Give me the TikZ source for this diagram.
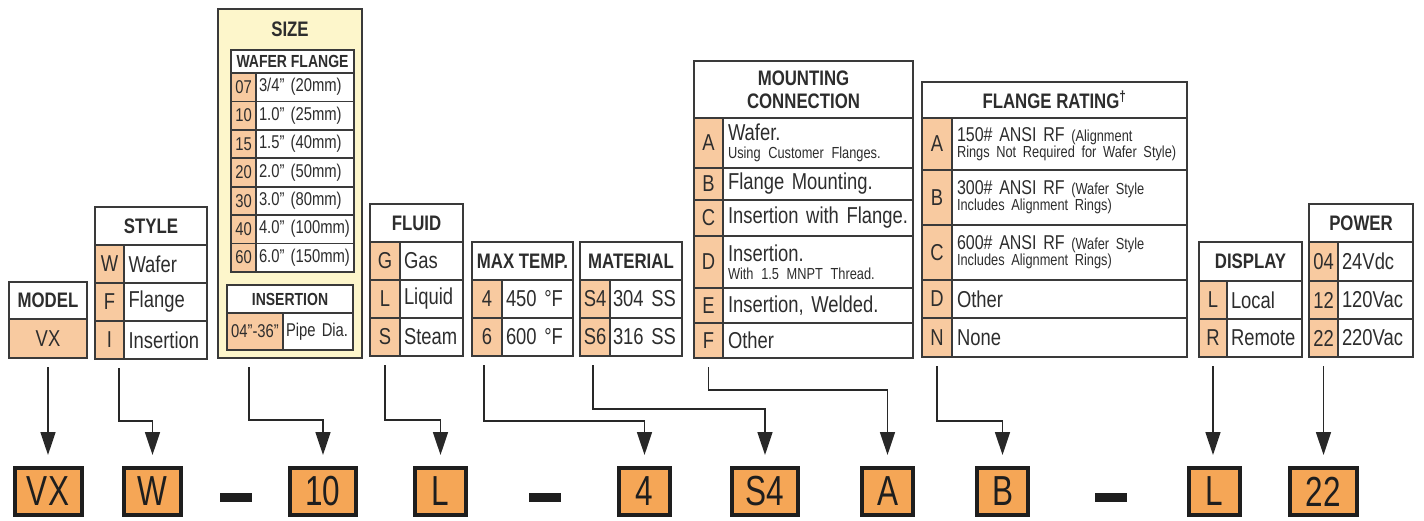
\documentclass[tikz,border=0pt]{standalone}
\usepackage{fontspec}
\setmainfont{Liberation Sans}[FakeStretch=0.8]
\newfontfamily\boxfam{Liberation Sans}[FakeStretch=0.75]
\usepackage{xcolor}
\usetikzlibrary{arrows.meta,positioning,calc}

\definecolor{codefill}{RGB}{248,202,160}
\definecolor{sizefill}{RGB}{253,246,203}
\definecolor{tabline}{RGB}{58,58,58}
\definecolor{boxfill}{RGB}{245,166,86}
\definecolor{boxline}{RGB}{30,30,30}
\definecolor{arrline}{RGB}{40,40,40}
\definecolor{txtcol}{RGB}{45,45,45}

\newcommand{\hdfnt}{\fontsize{21}{23}\selectfont\bfseries}
\newcommand{\subfnt}{\fontsize{17.5}{19}\selectfont\bfseries}
\newcommand{\rowfnt}{\fontsize{23}{24}\selectfont}
\newcommand{\midfnt}{\fontsize{20}{22}\selectfont}
\newcommand{\szfnt}{\fontsize{18.5}{20}\selectfont}
\newcommand{\smfnt}{\fontsize{16}{18}\selectfont}
\newcommand{\bigfnt}{\fontsize{42}{42}\selectfont\boxfam}

\begin{document}
\begin{tikzpicture}[
    x=1pt, y=1pt,
    font=\rowfnt, text=txtcol,
    cell/.style={draw=tabline, line width=1.8pt, inner sep=0pt, outer sep=0pt},
    head/.style={cell, fill=white, font=\hdfnt, align=center, anchor=north west},
    subhead/.style={cell, fill=white, font=\subfnt, anchor=north west},
    codecell/.style={cell, fill=codefill},
    desccell/.style={cell, fill=white, align=left, inner xsep=5pt, text width=#1},
    cbox/.style={draw=boxline, line width=4pt, fill=boxfill, inner sep=0pt,
                 minimum height=47, font=\bigfnt, text=boxline},
    hyph/.style={fill=boxline, inner sep=0pt, minimum width=32, minimum height=9},
    arr/.style={-{Triangle[length=23pt,width=15pt]}, line width=1.6pt, draw=arrline}
]
\useasboundingbox (0,0) rectangle (1424,-520);

% model
\node[head, minimum width=78, minimum height=37] (mdH) at (9,-282) {MODEL};
\node[codecell, minimum width=78, minimum height=39, below=0pt of mdH] (mdV) {VX};

% style
\node[head, minimum width=112, minimum height=38] (stH) at (95,-207) {STYLE};
\node[codecell, minimum width=29, minimum height=38, below right=0pt and 0pt of stH.south west] (stW) {W};
\node[desccell=74, inner xsep=4.5pt, minimum height=38, right=0pt of stW] (stWd) {Wafer};
\node[codecell, minimum width=29, minimum height=38, below=0pt of stW] (stF) {F};
\node[desccell=74, inner xsep=4.5pt, minimum height=38, right=0pt of stF] (stFd) {Flange};
\node[codecell, minimum width=29, minimum height=38, below=0pt of stF] (stI) {I};
\node[desccell=74, inner xsep=4.5pt, minimum height=38, right=0pt of stI] (stId) {Insertion};

% size
\node[cell, fill=sizefill, anchor=north west, minimum width=144, minimum height=349] (szBg) at (218,-9) {};
\node[font=\hdfnt] (szT) at (290,-29) {SIZE};
\node[subhead, minimum width=123, minimum height=23] (wfH) at (231,-50) {WAFER FLANGE};
\node[codecell, font=\szfnt, minimum width=25, minimum height=28.4, below right=0pt and 0pt of wfH.south west] (sz07) {07};
\node[desccell=92, inner xsep=3pt, font=\szfnt, minimum height=28.4, right=0pt of sz07] (sz07d) {3/4" (20mm)};
\node[codecell, font=\szfnt, minimum width=25, minimum height=28.4, below=0pt of sz07] (sz10) {10};
\node[desccell=92, inner xsep=3pt, font=\szfnt, minimum height=28.4, right=0pt of sz10] (sz10d) {1.0" (25mm)};
\node[codecell, font=\szfnt, minimum width=25, minimum height=28.4, below=0pt of sz10] (sz15) {15};
\node[desccell=92, inner xsep=3pt, font=\szfnt, minimum height=28.4, right=0pt of sz15] (sz15d) {1.5" (40mm)};
\node[codecell, font=\szfnt, minimum width=25, minimum height=28.4, below=0pt of sz15] (sz20) {20};
\node[desccell=92, inner xsep=3pt, font=\szfnt, minimum height=28.4, right=0pt of sz20] (sz20d) {2.0" (50mm)};
\node[codecell, font=\szfnt, minimum width=25, minimum height=28.4, below=0pt of sz20] (sz30) {30};
\node[desccell=92, inner xsep=3pt, font=\szfnt, minimum height=28.4, right=0pt of sz30] (sz30d) {3.0" (80mm)};
\node[codecell, font=\szfnt, minimum width=25, minimum height=28.4, below=0pt of sz30] (sz40) {40};
\node[desccell=92, inner xsep=3pt, font=\szfnt, minimum height=28.4, right=0pt of sz40] (sz40d) {4.0" (100mm)};
\node[codecell, font=\szfnt, minimum width=25, minimum height=28.4, below=0pt of sz40] (sz60) {60};
\node[desccell=92, inner xsep=3pt, font=\szfnt, minimum height=28.4, right=0pt of sz60] (sz60d) {6.0" (150mm)};
\node[subhead, minimum width=126, minimum height=28] (inH) at (227,-285) {INSERTION};
\node[codecell, font=\szfnt, minimum width=56, minimum height=37, below right=0pt and 0pt of inH.south west] (inC) {04"-36"};
\node[desccell=64, inner xsep=3pt, font=\szfnt, minimum height=37, right=0pt of inC] (inCd) {Pipe Dia.};

% fluid
\node[head, minimum width=93, minimum height=38] (flH) at (370,-204) {FLUID};
\node[codecell, minimum width=30, minimum height=38, below right=0pt and 0pt of flH.south west] (flG) {G};
\node[desccell=55, inner xsep=4pt, minimum height=38, right=0pt of flG] (flGd) {Gas};
\node[codecell, minimum width=30, minimum height=38, below=0pt of flG] (flL) {L};
\node[desccell=55, inner xsep=4pt, minimum height=38, right=0pt of flL] (flLd) {Liquid};
\node[codecell, minimum width=30, minimum height=38, below=0pt of flL] (flS) {S};
\node[desccell=55, inner xsep=4pt, minimum height=38, right=0pt of flS] (flSd) {Steam};

% max temp
\node[head, minimum width=101, minimum height=38] (tpH) at (472,-242) {MAX TEMP.};
\node[codecell, minimum width=30, minimum height=38, below right=0pt and 0pt of tpH.south west] (tp4) {4};
\node[desccell=63, inner xsep=4pt, minimum height=38, right=0pt of tp4] (tp4d) {450 °F};
\node[codecell, minimum width=30, minimum height=38, below=0pt of tp4] (tp6) {6};
\node[desccell=63, inner xsep=4pt, minimum height=38, right=0pt of tp6] (tp6d) {600 °F};

% material
\node[head, minimum width=102, minimum height=38] (maH) at (580,-242) {MATERIAL};
\node[codecell, minimum width=30, minimum height=38, below right=0pt and 0pt of maH.south west] (maS4) {S4};
\node[desccell=66, inner xsep=3pt, minimum height=38, right=0pt of maS4] (maS4d) {304 SS};
\node[codecell, minimum width=30, minimum height=38, below=0pt of maS4] (maS6) {S6};
\node[desccell=66, inner xsep=3pt, minimum height=38, right=0pt of maS6] (maS6d) {316 SS};

% mounting connection
\node[head, minimum width=219, minimum height=57] (mcH) at (694,-61) {MOUNTING\\CONNECTION};
\node[codecell, minimum width=29, minimum height=50, below right=0pt and 0pt of mcH.south west] (mcA) {A};
\node[desccell=180, minimum height=50, right=0pt of mcA] (mcAd) {Wafer.\\[-6pt]{\smfnt Using Customer Flanges.}};
\node[codecell, minimum width=29, minimum height=32, below=0pt of mcA] (mcB) {B};
\node[desccell=180, minimum height=32, right=0pt of mcB] (mcBd) {Flange Mounting.};
\node[codecell, minimum width=29, minimum height=36, below=0pt of mcB] (mcC) {C};
\node[desccell=180, minimum height=36, right=0pt of mcC] (mcCd) {Insertion with Flange.};
\node[codecell, minimum width=29, minimum height=52, below=0pt of mcC] (mcD) {D};
\node[desccell=180, minimum height=52, right=0pt of mcD] (mcDd) {Insertion.\\[-6pt]{\smfnt With 1.5 MNPT Thread.}};
\node[codecell, minimum width=29, minimum height=35, below=0pt of mcD] (mcE) {E};
\node[desccell=180, minimum height=35, right=0pt of mcE] (mcEd) {Insertion, Welded.};
\node[codecell, minimum width=29, minimum height=35, below=0pt of mcE] (mcF) {F};
\node[desccell=180, minimum height=35, right=0pt of mcF] (mcFd) {Other};

% flange rating
\node[head, minimum width=265, minimum height=36] (frH) at (922,-82) {FLANGE RATING\textsuperscript{†}};
\node[codecell, minimum width=30, minimum height=52, below right=0pt and 0pt of frH.south west] (frA) {A};
\node[desccell=225, font=\midfnt, minimum height=52, right=0pt of frA] (frAd)
  {150\# ANSI RF {\smfnt (Alignment}\\[-6pt]{\smfnt Rings Not Required for Wafer Style)}};
\node[codecell, minimum width=30, minimum height=55, below=0pt of frA] (frB) {B};
\node[desccell=225, font=\midfnt, minimum height=55, right=0pt of frB] (frBd)
  {300\# ANSI RF {\smfnt (Wafer Style}\\[-6pt]{\smfnt Includes Alignment Rings)}};
\node[codecell, minimum width=30, minimum height=55, below=0pt of frB] (frC) {C};
\node[desccell=225, font=\midfnt, minimum height=55, right=0pt of frC] (frCd)
  {600\# ANSI RF {\smfnt (Wafer Style}\\[-6pt]{\smfnt Includes Alignment Rings)}};
\node[codecell, minimum width=30, minimum height=38, below=0pt of frC] (frD) {D};
\node[desccell=225, minimum height=38, right=0pt of frD] (frDd) {Other};
\node[codecell, minimum width=30, minimum height=39, below=0pt of frD] (frN) {N};
\node[desccell=225, minimum height=39, right=0pt of frN] (frNd) {None};

% display
\node[head, minimum width=103, minimum height=39] (dsH) at (1199,-242) {DISPLAY};
\node[codecell, minimum width=28, minimum height=38, below right=0pt and 0pt of dsH.south west] (dsL) {L};
\node[desccell=67, inner xsep=4pt, minimum height=38, right=0pt of dsL] (dsLd) {Local};
\node[codecell, minimum width=28, minimum height=38, below=0pt of dsL] (dsR) {R};
\node[desccell=67, inner xsep=4pt, minimum height=38, right=0pt of dsR] (dsRd) {Remote};

% power
\node[head, minimum width=104, minimum height=38] (pwH) at (1309,-204) {POWER};
\node[codecell, minimum width=29, minimum height=39, below right=0pt and 0pt of pwH.south west] (pw04) {04};
\node[desccell=67, inner xsep=4pt, minimum height=39, right=0pt of pw04] (pw04d) {24Vdc};
\node[codecell, minimum width=29, minimum height=38, below=0pt of pw04] (pw12) {12};
\node[desccell=67, inner xsep=4pt, minimum height=38, right=0pt of pw12] (pw12d) {120Vac};
\node[codecell, minimum width=29, minimum height=38, below=0pt of pw12] (pw22) {22};
\node[desccell=67, inner xsep=4pt, minimum height=38, right=0pt of pw22] (pw22d) {220Vac};

% model number
\node[cbox, minimum width=67] (bVX) at (48,-491.5) {VX};
\node[cbox, minimum width=57] (bW) at (152.5,-491.5) {W};
\node[hyph] (hyA) at (236,-497.5) {};
\node[cbox, minimum width=66] (b10) at (323,-491.5) {10};
\node[cbox, minimum width=51] (bL) at (440.5,-491.5) {L};
\node[hyph] (hyB) at (545,-497.5) {};
\node[cbox, minimum width=51] (b4) at (644.5,-491.5) {4};
\node[cbox, minimum width=66] (bS4) at (765,-491.5) {S4};
\node[cbox, minimum width=51] (bA) at (887.5,-491.5) {A};
\node[cbox, minimum width=51] (bB) at (1002.5,-491.5) {B};
\node[hyph] (hyC) at (1111,-497.5) {};
\node[cbox, minimum width=51] (bD) at (1214,-491.5) {L};
\node[cbox, minimum width=67] (bP) at (1323.5,-491.5) {22};

\draw[arr] ($(mdV.south)+(0,-9)$) -- ($(mdV.south |- bVX.north)+(0,11)$);
\draw[arr] ($(stI.south)+(9.5,-9)$) |- ($(bW.north)+(0,45)$) -- ($(bW.north)+(0,11)$);
\draw[arr] ($(inC.south |- szBg.south)+(-6,-9)$) |- ($(b10.north)+(0,46)$) -- ($(b10.north)+(0,11)$);
\draw[arr] ($(flS.south)+(0,-9)$) |- ($(bL.north)+(0,46)$) -- ($(bL.north)+(0,11)$);
\draw[arr] ($(tp6.south)+(-3,-9)$) |- ($(b4.north)+(0,45)$) -- ($(b4.north)+(0,11)$);
\draw[arr] ($(maS6.south)+(-2,-9)$) |- ($(bS4.north)+(0,57)$) -- ($(bS4.north)+(0,11)$);
\draw[arr] ($(mcF.south)+(0,-9)$) |- ($(bA.north)+(0,76)$) -- ($(bA.north)+(0,11)$);
\draw[arr] ($(frN.south)+(0,-9)$) |- ($(bB.north)+(0,45)$) -- ($(bB.north)+(0,11)$);
\draw[arr] ($(dsR.south)+(0,-9)$) -- ($(dsR.south |- bD.north)+(0,11)$);
\draw[arr] ($(pw22.south)+(0,-9)$) -- ($(pw22.south |- bP.north)+(0,11)$);
\end{tikzpicture}
\end{document}
